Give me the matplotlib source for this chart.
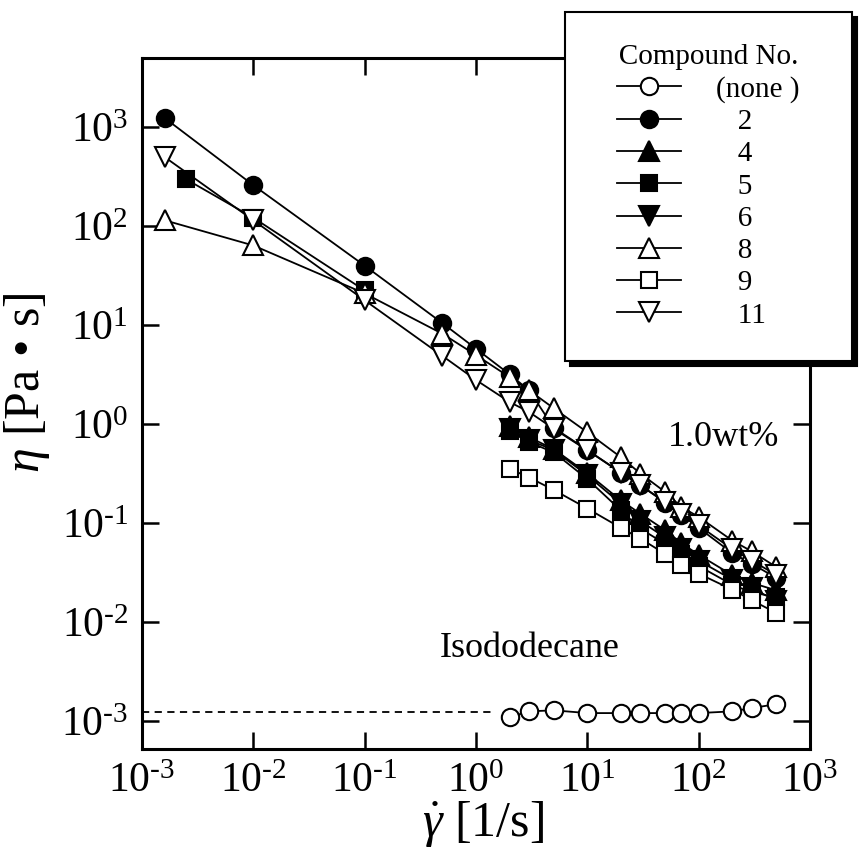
import matplotlib
matplotlib.use("Agg")
import matplotlib.pyplot as plt
import numpy as np
from matplotlib.ticker import LogLocator, NullLocator, FuncFormatter

plt.rcParams.update({
    "font.family": "Liberation Serif",
    "mathtext.fontset": "custom",
    "mathtext.rm": "Liberation Serif",
    "mathtext.it": "Liberation Serif:italic",
    "mathtext.bf": "Liberation Serif:bold",
    "axes.unicode_minus": False,
})

# Shear rates [1/s]
rate_low = [1.6e-3, 1e-2, 1e-1, 0.5, 1.0]
rate_high = [2, 3, 5, 10, 20, 30, 50, 70, 100, 200, 300, 500]
rate_c5_low = [2.5e-3, 1e-2, 1e-1]

# Viscosity [Pa s]
eta_none = [1.10e-3, 1.26e-3, 1.29e-3, 1.21e-3, 1.21e-3, 1.21e-3,
            1.21e-3, 1.22e-3, 1.21e-3, 1.26e-3, 1.36e-3, 1.49e-3]
eta_c2 = [1240, 260, 40, 10.5, 5.8,
          3.2, 2.2, 0.92, 0.55, 0.325, 0.242, 0.162, 0.122, 0.090, 0.050, 0.039, 0.028]
eta_c4 = [0.95, 0.74, 0.56, 0.32, 0.17, 0.125, 0.085, 0.063, 0.048, 0.030, 0.025, 0.021]
eta_c5_low = [298, 122, 22.5]
eta_c5 = [0.85, 0.66, 0.52, 0.28, 0.135, 0.088, 0.062, 0.049, 0.037, 0.024, 0.020, 0.018]
eta_c6 = [0.90, 0.69, 0.55, 0.305, 0.158, 0.105, 0.072, 0.055, 0.042, 0.027, 0.022, 0.0165]
eta_c8 = [115, 64, 21, 8.2, 5.0,
          3.0, 2.2, 1.45, 0.83, 0.465, 0.318, 0.207, 0.146, 0.116, 0.067, 0.052, 0.036]
eta_c9 = [0.356, 0.290, 0.217, 0.141, 0.090, 0.070, 0.049, 0.0377, 0.031, 0.0214, 0.0167, 0.0124]
eta_c11 = [500, 115, 17.9, 4.9, 2.8,
           1.68, 1.33, 0.90, 0.546, 0.325, 0.242, 0.164, 0.125, 0.095, 0.055, 0.042, 0.030]

# Solvent viscosity reference line
solvent_eta = 1.23e-3
solvent_rate_span = [1e-3, 1.45]

legend_labels = ["(none )", "   2", "   4", "   5", "   6", "   8", "   9", "   11"]

fig = plt.figure(figsize=(8.61, 8.64), dpi=100)
ax = fig.add_axes([142 / 861, 1 - 749 / 864, 668 / 861, 691 / 864])
ax.set_xscale("log")
ax.set_yscale("log")

lw = 1.3
mew = 1.5
styles = {
    "none": dict(marker="o", mfc="white", ms=12.5),
    "c2": dict(marker="o", mfc="black", ms=12.5),
    "c4": dict(marker="^", mfc="black", ms=14),
    "c5": dict(marker="s", mfc="black", ms=11.5),
    "c6": dict(marker="v", mfc="black", ms=14),
    "c8": dict(marker="^", mfc="white", ms=14),
    "c9": dict(marker="s", mfc="white", ms=11.5),
    "c11": dict(marker="v", mfc="white", ms=14),
}


def draw(x, y, key, label=None):
    return ax.plot(x, y, color="black", lw=lw, mec="black", mew=mew,
                   label=label, **styles[key])[0]


ax.plot(solvent_rate_span, [solvent_eta, solvent_eta], color="black",
        lw=lw, ls="--", dashes=(4, 3))

handles = []
handles.append(draw(rate_high, eta_none, "none", legend_labels[0]))
handles.append(draw(rate_low + rate_high, eta_c2, "c2", legend_labels[1]))
handles.append(draw(rate_high, eta_c4, "c4", legend_labels[2]))
draw(rate_c5_low, eta_c5_low, "c5")
handles.append(draw(rate_high, eta_c5, "c5", legend_labels[3]))
handles.append(draw(rate_high, eta_c6, "c6", legend_labels[4]))
handles.append(draw(rate_low + rate_high, eta_c8, "c8", legend_labels[5]))
handles.append(draw(rate_high, eta_c9, "c9", legend_labels[6]))
handles.append(draw(rate_low + rate_high, eta_c11, "c11", legend_labels[7]))

ax.set_xlim(1e-3, 1e3)
ax.set_ylim(10 ** -3.28, 10 ** 3.70)


def decade_label(v, pos):
    e = int(round(np.log10(v)))
    return r"$10^{\text{%d}}$" % e


for axis in (ax.xaxis, ax.yaxis):
    axis.set_major_locator(LogLocator(base=10, subs=(1.0,), numticks=20))
    axis.set_minor_locator(NullLocator())
    axis.set_major_formatter(FuncFormatter(decade_label))

ax.tick_params(which="major", direction="in", top=True, right=True,
               length=12, width=1.8, labelsize=30, pad=10)
for sp in ax.spines.values():
    sp.set_linewidth(2.2)

ax.set_xlabel(r"$\dot{\gamma}$ [1/s]", fontsize=36)
ax.xaxis.set_label_coords(0.51, -0.072)
ax.set_ylabel(r"$\eta$ [Pa • s]", fontsize=36)
ax.yaxis.set_label_coords(-0.135, 0.53)

ax.text(0.787, 0.4515, "1.0wt%", transform=ax.transAxes, fontsize=26,
        ha="left", va="center")
ax.text(0.446, 0.146, "Isododecane", transform=ax.transAxes, fontsize=26,
        ha="left", va="center")

leg = fig.legend(handles=handles, loc="upper left",
                 bbox_to_anchor=(565 / 861, 1 - 12 / 864),
                 bbox_transform=fig.transFigure, borderaxespad=0,
                 title="   Compound No.   ", title_fontsize=21, fontsize=21,
                 frameon=True, fancybox=False, framealpha=1,
                 edgecolor="black", facecolor="white",
                 shadow={"color": "black", "alpha": 1, "ox": 3.5, "oy": -3.5},
                 handlelength=2.2, handletextpad=1.2, labelspacing=0.2,
                 borderpad=1.1, numpoints=1)
leg.get_frame().set_linewidth(1.5)

fig.savefig("out.png", dpi=100)
